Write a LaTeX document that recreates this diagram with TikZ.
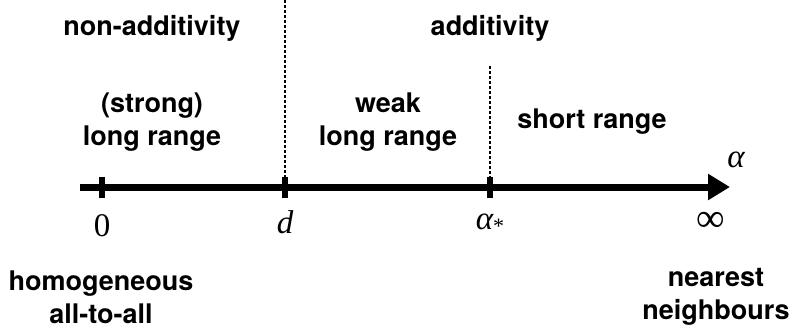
\documentclass[tikz,border=0pt]{standalone}
\usepackage{fontspec}
\usetikzlibrary{arrows.meta}
\newfontfamily\hv{TeX Gyre Heros}
\newfontfamily\tms{Liberation Serif}
\begin{document}
\begin{tikzpicture}[x=1pt,y=-1pt,
  lbl/.style={font=\hv\bfseries\fontsize{27}{33}\selectfont, align=center, inner sep=0pt},
  val/.style={font=\tms\fontsize{33}{38}\selectfont, inner sep=0pt},
  ival/.style={val, font=\tms\itshape\fontsize{33}{38}\selectfont},
  axis/.style={line width=7pt},
  tick/.style={line width=6pt},
  sep/.style={line width=1.3pt, dash pattern=on 3pt off 2pt}]
\useasboundingbox (0,0) rectangle (790,330);
% axis
\coordinate (start) at (80,187);
\coordinate (tip) at (730,187);
\draw[axis,-{Triangle[length=22pt,width=25pt]}] (start) -- (tip);
% ticks
\coordinate (t0) at (102,187);
\coordinate (td) at (285,187);
\coordinate (ta) at (490,187);
\foreach \t in {t0,td,ta} \draw[tick] ([yshift=-11]\t) -- ([yshift=10]\t);
% separators
\coordinate (sd) at (285,0);
\coordinate (sa) at (490,66);
\draw[sep] (sd) -- (td);
\draw[sep] (sa) -- (ta);
% regime labels
\node[lbl] (nonadd) at (152,28) {non-additivity};
\node[lbl] (add) at (490,28) {additivity};
\node[lbl] (strong) at (152,122) {(strong)\\long range};
\node[lbl] (weak) at (388,122) {weak\\long range};
\node[lbl] (short) at (592,122) {short range};
% axis values
\node[ival] (alpha) at (736,160) {α};
\node[val] (zero) at (102,226) {0};
\node[ival] (d) at (285,222) {d};
\node[ival] (astar) at (490,224) {α\raisebox{-0.12em}{\fontsize{22}{24}\selectfont\upshape *}};
\node[val,font=\tms\fontsize{40}{44}\selectfont] (inf) at (711,222) {∞};
% limiting cases
\node[lbl] (homog) at (101,297) {homogeneous\\all-to-all};
\node[lbl] (nearest) at (716,297) {nearest\\neighbours};
\end{tikzpicture}
\end{document}
